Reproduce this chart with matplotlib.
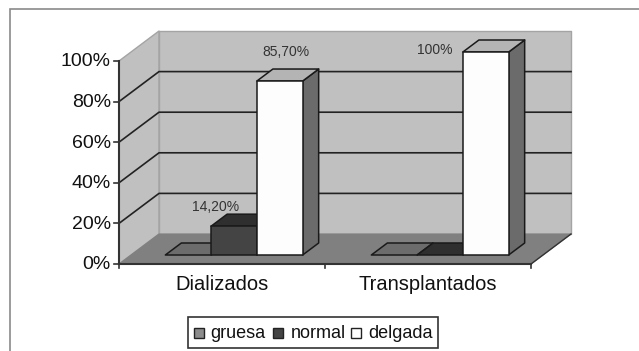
import matplotlib
matplotlib.use('Agg')
import matplotlib.pyplot as plt
from matplotlib.transforms import Affine2D
from matplotlib.patches import Rectangle, Polygon
from matplotlib.lines import Line2D

categories = ['Dializados', 'Transplantados']
series_names = ['gruesa', 'normal', 'delgada']
gruesa = [0, 0]
normal = [14.2, 0]
delgada = [85.7, 100]
labels = {('normal', 0): '14,20%', ('delgada', 0): '85,70%', ('delgada', 1): '100%'}
yticks = [0, 20, 40, 60, 80, 100]
ytick_labels = ['0%', '20%', '40%', '60%', '80%', '100%']

W, H = 639, 351
FONT = 'Liberation Sans'
fig = plt.figure(figsize=(W / 100, H / 100), dpi=100, facecolor='white')
L, R, B, T = 119, 531, 264, 61
ax = fig.add_axes([L / W, 1 - B / H, (R - L) / W, (B - T) / H])
ax.set_xlim(0, 2)
ax.set_ylim(0, 100)
ax.axis('off')

DX, DY = 40, 30

def tr(d):
    return ax.transData + Affine2D().translate(DX * d, DY * d)

def poly(pts, d_list, fc, ec, lw=1.2, z=1):
    disp = []
    for (x, y), d in zip(pts, d_list):
        disp.append(tr(d).transform((x, y)))
    p = Polygon(disp, closed=True, transform=None, facecolor=fc, edgecolor=ec,
                linewidth=lw, zorder=z, joinstyle='round', clip_on=False)
    fig.add_artist(p)
    return p

WALL = '#c0c0c0'
WALL_EDGE = '#a4a4a4'
FLOOR = '#808080'
DARK = '#222222'

# Walls and floor
poly([(0, 0), (0, 0), (0, 100), (0, 100)], [0, 1, 1, 0], WALL, WALL_EDGE, 1.0, 1)
poly([(0, 0), (2, 0), (2, 100), (0, 100)], [1, 1, 1, 1], WALL, WALL_EDGE, 1.0, 1)
poly([(0, 0), (2, 0), (2, 0), (0, 0)], [0, 0, 1, 1], FLOOR, FLOOR, 0.8, 2)

# Gridlines (none at the top of the walls)
for v in yticks[1:-1]:
    fig.add_artist(Line2D(*zip(tr(0).transform((0, v)), tr(1).transform((0, v)), tr(1).transform((2, v))),
                          color=DARK, lw=1.2, zorder=3, transform=None))
# Axes
fig.add_artist(Line2D(*zip(tr(0).transform((0, 0)), tr(0).transform((0, 100))), color='#333333', lw=1.5, zorder=4, transform=None))
fig.add_artist(Line2D(*zip(tr(0).transform((0, 0)), tr(0).transform((2, 0))), color='#333333', lw=1.5, zorder=4, transform=None))
fig.add_artist(Line2D(*zip(tr(0).transform((2, 0)), tr(1).transform((2, 0))), color='#333333', lw=1.0, zorder=4, transform=None))
for v in yticks:
    p = tr(0).transform((0, v))
    fig.add_artist(Line2D([p[0] - 5, p[0]], [p[1], p[1]], color='#333333', lw=1.2, zorder=4, transform=None))
    ax.text(-0.04, v - 0.4, ytick_labels[yticks.index(v)], ha='right', va='center', fontsize=14,
            family=FONT, color='#111111', clip_on=False)
for x in [0, 1, 2]:
    p = tr(0).transform((x, 0))
    fig.add_artist(Line2D([p[0], p[0]], [p[1], p[1] - 4], color='#333333', lw=1.2, zorder=4, transform=None))
for i, c in enumerate(categories):
    ax.text(i + 0.5, -10.2, c, ha='center', va='center', fontsize=14.5, family=FONT, color='#111111', clip_on=False)

# Bars
D0, D1 = 0.3, 0.7
BW = 2 / 3 / 3
face = {'gruesa': ('#8c8c8c', '#6c6c6c', '#5a5a5a'),
        'normal': ('#444444', '#2f2f2f', '#262626'),
        'delgada': ('#fdfdfd', '#b4b4b4', '#6b6b6b')}
values = {'gruesa': gruesa, 'normal': normal, 'delgada': delgada}
for i in range(len(categories)):
    x0 = i + 0.5 - 1.5 * BW
    for s, name in enumerate(series_names):
        v = values[name][i]
        l, r = x0 + s * BW, x0 + (s + 1) * BW
        fc, tc, sc = face[name]
        z = 5 + s
        poly([(r, 0), (r, 0), (r, v), (r, v)], [D0, D1, D1, D0], sc, '#1a1a1a', 1.1, z)
        poly([(l, v), (r, v), (r, v), (l, v)], [D0, D0, D1, D1], tc, '#1a1a1a', 1.1, z)
        if v > 0:
            poly([(l, 0), (r, 0), (r, v), (l, v)], [D0, D0, D0, D0], fc, '#1a1a1a', 1.1, z + 0.1)
        lab = labels.get((name, i))
        if lab:
            px = {('normal', 0): (216, 207), ('delgada', 0): (286, 52), ('delgada', 1): (435, 50)}[(name, i)]
            fig.text(px[0] / W, 1 - px[1] / H, lab, ha='center', va='center', fontsize=10,
                     family=FONT, color='#333333', zorder=20)

# Outer frame: only left and top edges fall inside the picture
fig.add_artist(Rectangle((10 / W, -0.05), 1.1, 1.05 - 9 / H, transform=fig.transFigure, fill=False,
                         edgecolor='#8a8a8a', linewidth=1.2, zorder=0.5))

# Legend
fig.add_artist(Rectangle((188 / W, 1 - 348 / H), 250 / W, 31 / H, transform=fig.transFigure, facecolor='white',
                         edgecolor='#333333', linewidth=1.2, zorder=20))
for name, bx, tx in zip(series_names, [194, 273, 351], [210, 291, 368]):
    fig.add_artist(Rectangle((bx / W, 1 - 338 / H), 10 / W, 10 / H, transform=fig.transFigure,
                             facecolor=face[name][0], edgecolor='#222222', linewidth=1.0, zorder=21))
    fig.text(tx / W, 1 - 333 / H, name, ha='left', va='center', fontsize=13, family=FONT, color='#111111', zorder=21)

fig.savefig('out.png', dpi=100)
